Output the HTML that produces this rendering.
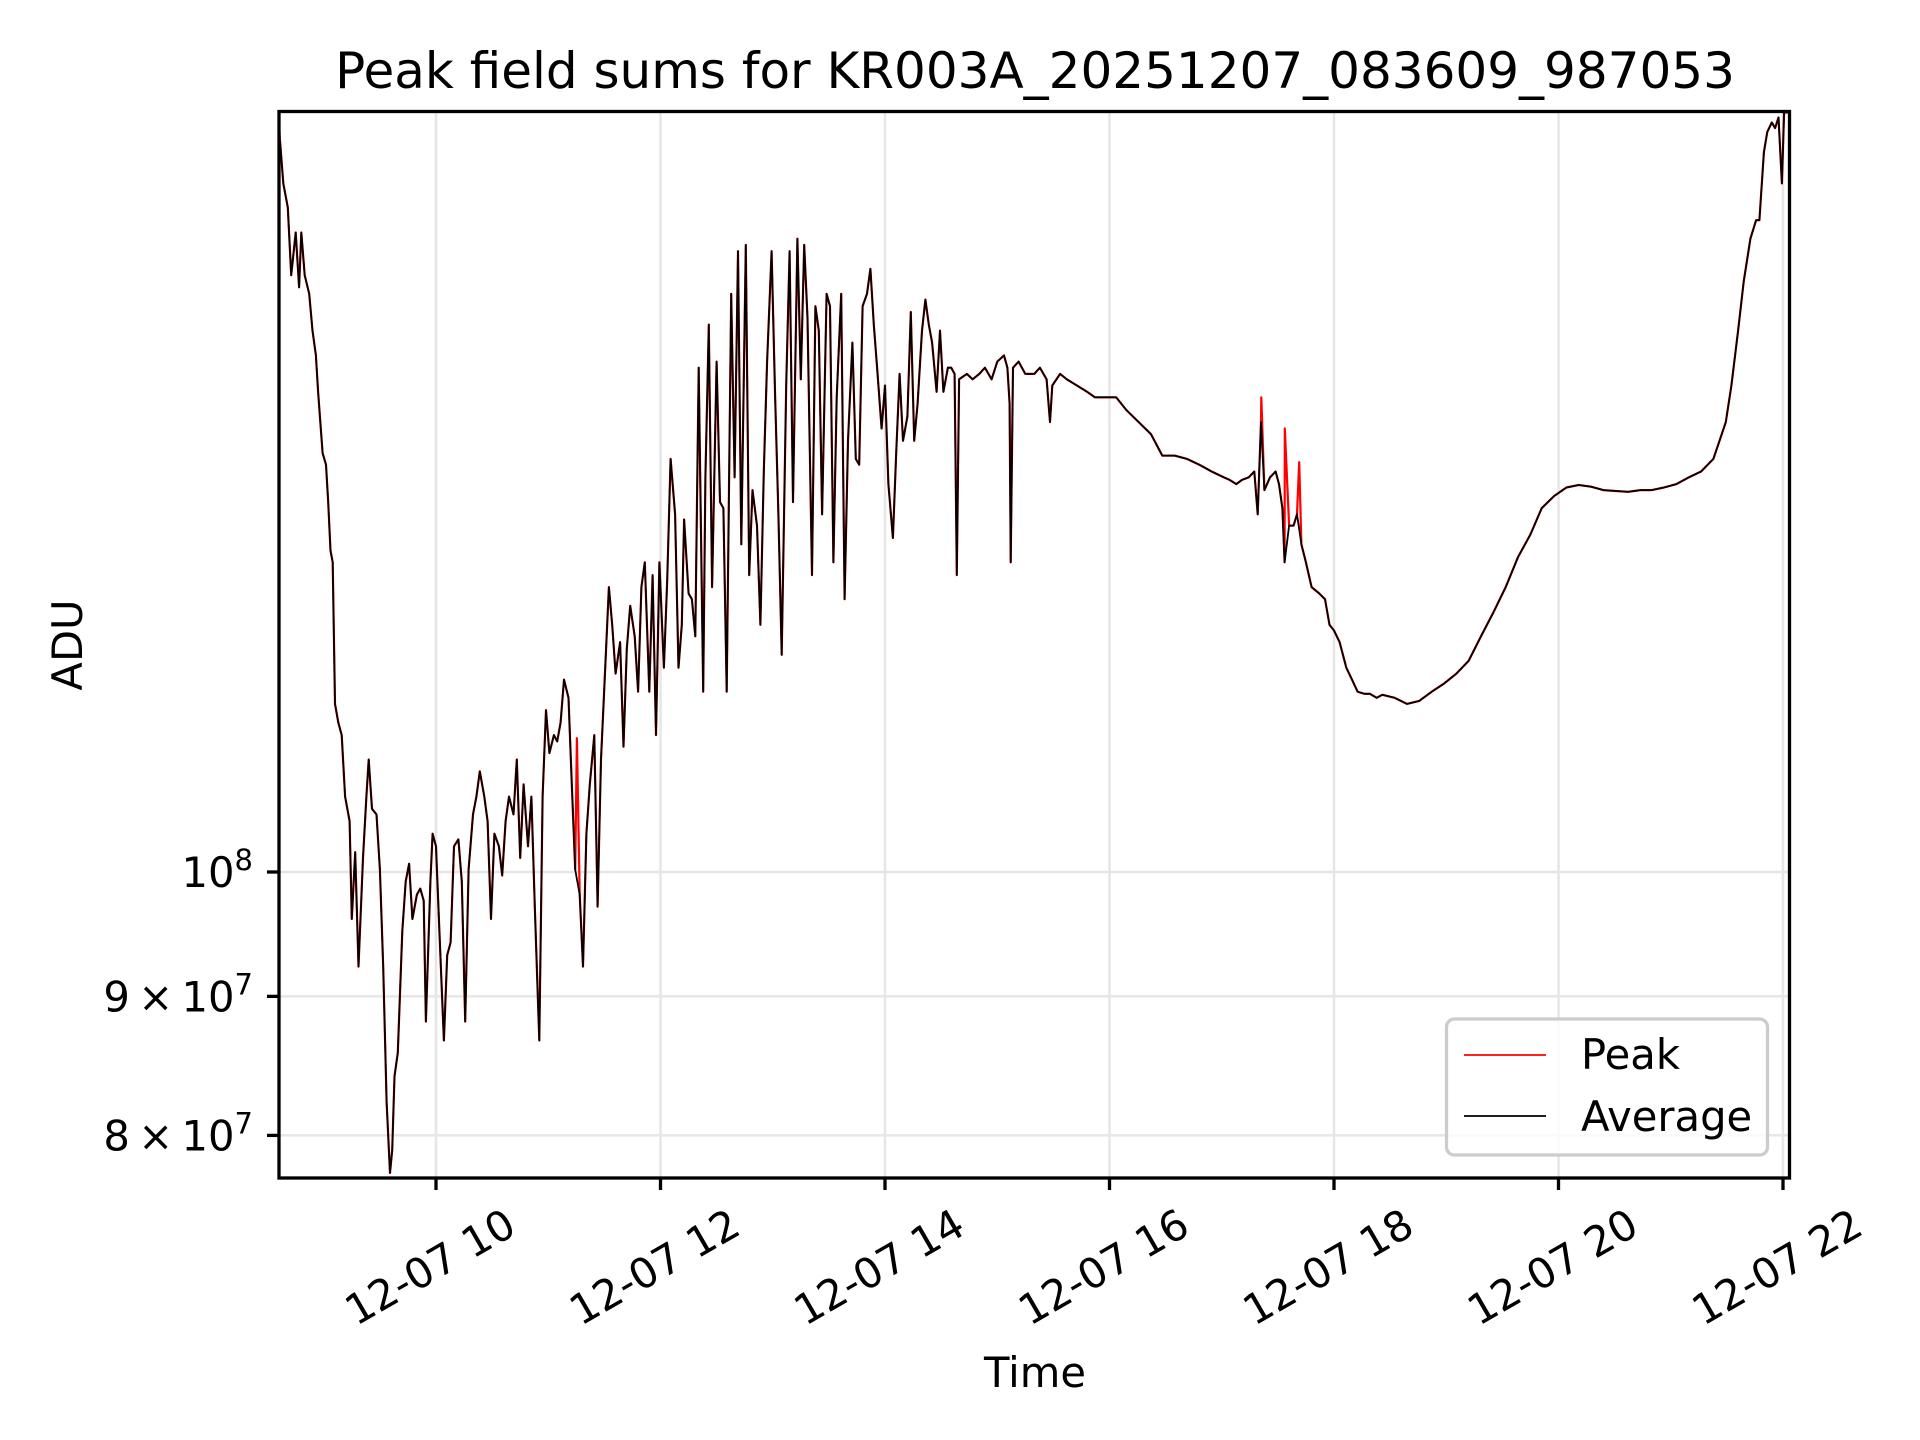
<!DOCTYPE html>
<html><head><meta charset="utf-8"><title>Peak field sums</title>
<style>html,body{margin:0;padding:0;background:#fff;}svg{display:block;font-family:"DejaVu Sans","Liberation Sans",sans-serif;}</style>
</head><body>
<svg id="chart" width="1920" height="1440" viewBox="0 0 1920 1440" xmlns="http://www.w3.org/2000/svg">
<rect width="1920" height="1440" fill="#fff"/>
<g id="grid"></g>
<g id="series"></g>
<rect x="279" y="111.5" width="1510.5" height="1066.5" fill="none" stroke="#000" stroke-width="3.3"/>
<g id="xticks"></g>
<g id="yticks"></g>
<text x="1035" y="88" font-size="50" text-anchor="middle">Peak field sums for KR003A_20251207_083609_987053</text>
<text x="1035" y="1387" font-size="41.7" text-anchor="middle">Time</text>
<text x="0" y="0" font-size="41.7" text-anchor="middle" transform="translate(82,645) rotate(-90)">ADU</text>
<g>
<rect x="1446.5" y="1019" width="321" height="136" rx="8" fill="#fff" fill-opacity="0.8" stroke="#cccccc" stroke-width="3.3"/>
<line x1="1464" y1="1055" x2="1546" y2="1055" stroke="#ff0000" stroke-width="1.8"/>
<text x="1581" y="1069" font-size="41.7">Peak</text>
<line x1="1464" y1="1116" x2="1546" y2="1116" stroke="#000" stroke-width="1.8"/>
<text x="1581" y="1131" font-size="41.7">Average</text>
</g>
</svg>
<script>
// time in hours of 2025-12-07; values in units of 1e8 ADU
const avgTimes = [8.61,8.64,8.68,8.71,8.75,8.78,8.80,8.83,8.87,8.90,8.93,8.95,8.99,9.02,9.04,9.06,9.08,9.10,9.13,9.16,9.19,9.23,9.25,9.28,9.31,9.35,9.38,9.40,9.43,9.47,9.50,9.53,9.56,9.59,9.61,9.63,9.66,9.70,9.73,9.76,9.79,9.83,9.86,9.89,9.91,9.95,9.97,10.00,10.03,10.07,10.10,10.13,10.16,10.20,10.23,10.26,10.29,10.33,10.36,10.39,10.43,10.46,10.49,10.52,10.56,10.59,10.62,10.65,10.69,10.72,10.75,10.78,10.82,10.85,10.88,10.92,10.95,10.98,11.01,11.05,11.08,11.11,11.14,11.18,11.21,11.24,11.28,11.31,11.34,11.37,11.41,11.44,11.47,11.50,11.54,11.57,11.60,11.64,11.67,11.70,11.73,11.77,11.80,11.83,11.86,11.90,11.93,11.96,11.99,12.03,12.06,12.09,12.13,12.16,12.19,12.21,12.25,12.28,12.31,12.34,12.38,12.40,12.43,12.46,12.50,12.53,12.56,12.59,12.63,12.66,12.69,12.72,12.76,12.79,12.82,12.86,12.89,12.92,12.95,12.99,13.02,13.05,13.08,13.12,13.15,13.18,13.22,13.25,13.28,13.31,13.35,13.38,13.41,13.44,13.48,13.51,13.54,13.57,13.61,13.64,13.67,13.71,13.74,13.77,13.80,13.84,13.87,13.90,13.93,13.97,14.00,14.03,14.07,14.10,14.13,14.16,14.20,14.23,14.26,14.29,14.33,14.36,14.39,14.42,14.46,14.49,14.52,14.56,14.59,14.62,14.64,14.66,14.73,14.78,14.84,14.89,14.95,15.00,15.06,15.09,15.11,15.12,15.14,15.19,15.25,15.33,15.38,15.44,15.47,15.49,15.56,15.62,15.71,15.80,15.87,15.98,16.06,16.15,16.26,16.37,16.47,16.58,16.69,16.80,16.91,17.02,17.07,17.13,17.18,17.24,17.29,17.32,17.35,17.38,17.43,17.48,17.51,17.54,17.56,17.60,17.64,17.67,17.71,17.75,17.80,17.87,17.92,17.96,18.00,18.05,18.11,18.16,18.21,18.27,18.32,18.38,18.43,18.54,18.65,18.76,18.87,18.98,19.09,19.20,19.31,19.42,19.53,19.64,19.75,19.85,19.96,20.07,20.18,20.29,20.40,20.51,20.62,20.73,20.83,20.94,21.05,21.16,21.27,21.38,21.49,21.54,21.60,21.65,21.71,21.76,21.79,21.83,21.86,21.90,21.93,21.96,21.99,22.01,22.04];
const avgValues = [1.858,1.792,1.756,1.658,1.719,1.641,1.719,1.658,1.632,1.582,1.549,1.502,1.426,1.412,1.368,1.313,1.300,1.153,1.135,1.123,1.066,1.044,0.961,1.017,0.923,1.012,1.066,1.100,1.055,1.050,1.002,0.923,0.823,0.775,0.790,0.841,0.858,0.951,0.992,1.007,0.961,0.981,0.986,0.976,0.881,0.992,1.033,1.022,0.951,0.867,0.932,0.942,1.022,1.028,0.992,0.881,1.002,1.050,1.066,1.089,1.066,1.044,0.961,1.033,1.022,0.997,1.044,1.066,1.050,1.100,1.012,1.077,1.022,1.066,0.971,0.867,1.066,1.147,1.106,1.123,1.117,1.135,1.177,1.159,1.077,1.002,0.981,0.923,1.033,1.077,1.123,0.971,1.100,1.171,1.273,1.233,1.183,1.215,1.112,1.208,1.253,1.221,1.165,1.273,1.300,1.165,1.286,1.123,1.300,1.189,1.280,1.419,1.354,1.189,1.233,1.348,1.266,1.260,1.221,1.533,1.165,1.397,1.590,1.273,1.541,1.368,1.361,1.165,1.632,1.397,1.692,1.320,1.701,1.286,1.382,1.341,1.233,1.404,1.541,1.692,1.502,1.354,1.202,1.510,1.692,1.368,1.710,1.518,1.701,1.599,1.286,1.615,1.582,1.354,1.632,1.615,1.300,1.495,1.632,1.260,1.441,1.566,1.419,1.412,1.615,1.632,1.667,1.590,1.533,1.456,1.510,1.389,1.327,1.426,1.525,1.441,1.471,1.607,1.441,1.487,1.582,1.624,1.590,1.566,1.502,1.582,1.502,1.533,1.533,1.525,1.286,1.518,1.525,1.518,1.525,1.533,1.518,1.541,1.549,1.533,1.487,1.300,1.533,1.541,1.525,1.525,1.533,1.518,1.464,1.510,1.525,1.518,1.510,1.502,1.495,1.495,1.495,1.479,1.464,1.449,1.423,1.423,1.419,1.412,1.404,1.397,1.394,1.389,1.394,1.397,1.404,1.354,1.464,1.382,1.397,1.404,1.389,1.361,1.300,1.341,1.341,1.354,1.320,1.300,1.273,1.266,1.260,1.233,1.227,1.215,1.189,1.177,1.165,1.163,1.163,1.159,1.162,1.159,1.153,1.156,1.165,1.173,1.183,1.196,1.221,1.246,1.273,1.306,1.331,1.361,1.375,1.385,1.388,1.386,1.382,1.381,1.380,1.382,1.382,1.385,1.389,1.397,1.404,1.419,1.464,1.510,1.582,1.649,1.710,1.737,1.737,1.840,1.872,1.887,1.878,1.895,1.792,1.903,1.903];
const peakSpikeTimes = [8.605,11.255,17.352,17.562,17.69];
const peakSpikeValues = [1.875,1.120,1.495,1.456,1.415];
const xTickHours = [10,12,14,16,18,20,22];
const xTickLabels = ["12-07 10","12-07 12","12-07 14","12-07 16","12-07 18","12-07 20","12-07 22"];
const yTickValues = [1.0,0.9,0.8];
const yTickMantissa = ["","9","8"];
const yTickExponent = ["8","7","7"];

const NS="http://www.w3.org/2000/svg";
const X0=279,X1=1789.5,Y0=111.5,Y1=1178;
function xScale(h){return 436+(h-10)*112.25;}
function yScale(v){return 872-Math.log10(v)*2718;}
function mk(tag,attrs,parent){const e=document.createElementNS(NS,tag);for(const k in attrs)e.setAttribute(k,attrs[k]);parent.appendChild(e);return e;}

const grid=document.getElementById('grid');
xTickHours.forEach(h=>{const l=mk('line',{x1:xScale(h),x2:xScale(h),y1:Y0,y2:Y1,stroke:'#e6e6e6','stroke-width':2.5},grid);

});
yTickValues.forEach(v=>{const l=mk('line',{x1:X0,x2:X1,y1:yScale(v),y2:yScale(v),stroke:'#e6e6e6','stroke-width':2.5},grid);

});

const series=document.getElementById('series');
const clip=mk('clipPath',{id:'pc'},series);mk('rect',{x:X0,y:Y0,width:X1-X0,height:Y1-Y0},clip);
const peakPts=avgTimes.map((t,i)=>[t,avgValues[i]]);
peakSpikeTimes.forEach((t,i)=>peakPts.push([t,peakSpikeValues[i]]));
peakPts.sort((a,b)=>a[0]-b[0]);
const pPeak=mk('polyline',{points:peakPts.map(p=>xScale(p[0]).toFixed(1)+','+yScale(p[1]).toFixed(1)).join(' '),fill:'none',stroke:'#ff0000','stroke-width':2.2,'stroke-linejoin':'round','clip-path':'url(#pc)'},series);


const pAvg=mk('polyline',{points:avgTimes.map((t,i)=>xScale(t).toFixed(1)+','+yScale(avgValues[i]).toFixed(1)).join(' '),fill:'none',stroke:'#000','stroke-width':1.8,'stroke-linejoin':'round','clip-path':'url(#pc)'},series);



const xt=document.getElementById('xticks');
xTickHours.forEach((h,i)=>{const x=xScale(h);
const t=mk('line',{x1:x,x2:x,y1:Y1,y2:Y1+12,stroke:'#000','stroke-width':3.3},xt);


const lb=mk('text',{x:0,y:0,'font-size':41.7,'text-anchor':'middle','dominant-baseline':'central',transform:'translate('+(x-6)+',1267) rotate(-30)'},xt);
lb.textContent=xTickLabels[i];

});

const yt=document.getElementById('yticks');
yTickValues.forEach((v,i)=>{const y=yScale(v);
const t=mk('line',{x1:X0-12,x2:X0,y1:y,y2:y,stroke:'#000','stroke-width':3.3},yt);


const lb=mk('text',{x:X0-26,y:y+15,'font-size':41.7,'text-anchor':'end'},yt);


const base=document.createElementNS(NS,'tspan');base.textContent=(yTickMantissa[i]?yTickMantissa[i]+'\u2009\u00d7\u200910':'10');lb.appendChild(base);
const sup=document.createElementNS(NS,'tspan');sup.setAttribute('dy','-17');sup.setAttribute('font-size','29');sup.textContent=yTickExponent[i];lb.appendChild(sup);});
</script>
</body></html>
